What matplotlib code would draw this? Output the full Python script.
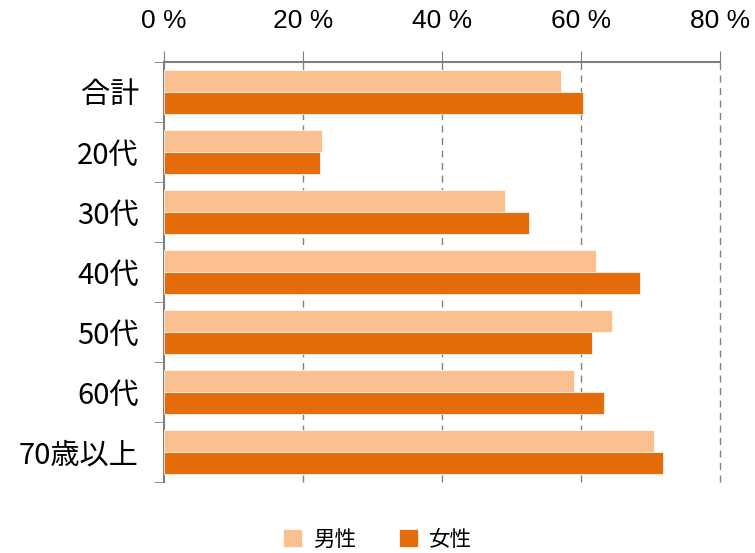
import matplotlib.pyplot as plt
import numpy as np

plt.rcParams['font.family'] = ['Noto Sans CJK JP', 'DejaVu Sans']

# data
categories = ['合計', '20代', '30代', '40代', '50代', '60代', '70歳以上']
male = [57.1, 22.7, 49.1, 62.2, 64.5, 59.0, 70.5]
female = [60.3, 22.4, 52.5, 68.5, 61.6, 63.3, 71.8]
series_names = ['男性', '女性']
xticks = [0, 20, 40, 60, 80]
xtick_labels = ['0 %', '20 %', '40 %', '60 %', '80 %']

fig = plt.figure(figsize=(7.55, 5.53), dpi=100)
ax = fig.add_axes([0.217, 0.128, 0.737, 0.76])

y = np.arange(len(categories))
h = 0.367
ax.barh(y - h / 2, male, h, color='#FAC090', edgecolor='white', linewidth=0.5,
        label=series_names[0], zorder=3)
ax.barh(y + h / 2, female, h, color='#E46C0A', edgecolor='white', linewidth=0.5,
        label=series_names[1], zorder=3)

ax.set_xlim(0, 80)
ax.set_ylim(len(categories) - 0.5, -0.5)

# x axis on top
ax.xaxis.tick_top()
ax.set_xticks(xticks, xtick_labels, fontsize=19,
              family=['Liberation Sans', 'DejaVu Sans'])
ax.tick_params(axis='x', direction='out', length=8, color='#808080', pad=13)
for v in xticks[1:]:
    ax.axvline(v, color='#808080', linestyle=(0, (5, 4)), linewidth=1,
               zorder=1, clip_on=False)

# y axis: labels centred, ticks at category boundaries
ax.set_yticks(y, categories, fontsize=21)
ax.tick_params(axis='y', length=0, pad=18)
ax.set_yticks(np.arange(-0.5, len(categories)), minor=True)
ax.tick_params(axis='y', which='minor', length=7, color='#808080', direction='out')

for s in ['right', 'bottom']:
    ax.spines[s].set_visible(False)
for s in ['left', 'top']:
    ax.spines[s].set_color('#808080')
    ax.spines[s].set_linewidth(1.5)

fig.legend(loc='center', bbox_to_anchor=(0.5, 0.024), ncol=2, frameon=False,
           fontsize=15.5, handlelength=0.9, handleheight=0.9, columnspacing=2.0,
           handletextpad=0.5)

fig.savefig('out.png', dpi=100)
